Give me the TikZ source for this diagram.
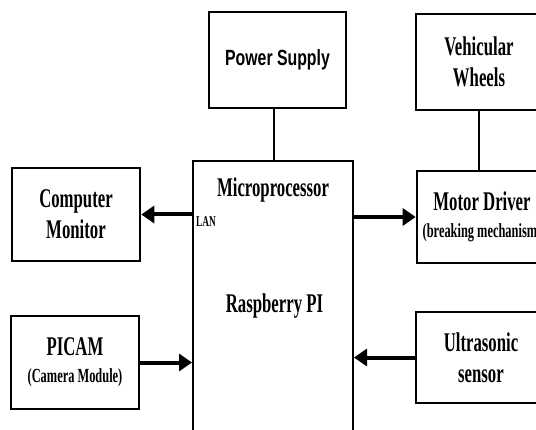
\documentclass[tikz,border=0pt]{standalone}
\usepackage{fontspec}
\setmainfont{Liberation Serif}[FakeStretch=0.62]
\newfontfamily\psfont{Liberation Sans}[FakeStretch=0.72]
\usetikzlibrary{arrows.meta}

\begin{document}
\begin{tikzpicture}[x=1pt, y=1pt,
	box/.style={draw, line width=2.6pt, minimum width=#1, inner sep=0pt, align=center,
		font=\fontsize{27}{31}\selectfont\bfseries},
	box/.default=128pt,
	arr/.style={line width=4pt, -{Triangle[length=13pt, width=17pt]}},
	link/.style={line width=2pt}]
	\useasboundingbox (0,0) rectangle (536,429);
	\clip (0,0) rectangle (536,429);

	\node[box=160pt, line width=2pt, minimum height=280pt] (rpi) at (273,128) {};
	\node[anchor=base, font=\fontsize{27}{31}\selectfont\bfseries] (mp) at (273,232) {Microprocessor};
	\node[anchor=base, font=\fontsize{27}{31}\selectfont\bfseries] (pi) at (274.5,117) {Raspberry PI};
	\node[anchor=base west, inner sep=0pt, font=\fontsize{15}{17}\selectfont\bfseries] (lan) at (196,202) {LAN};

	\node[box=137pt, minimum height=96pt, font=\fontsize{22}{26}\psfont\bfseries] (pwr) at (277.5,369) {Power Supply};
	\node[box=126pt, minimum height=96pt] (whl) at (479,367) {Vehicular\\Wheels};

	\node[box, minimum height=93pt] (mon) at (76,214.5) {Computer\\Monitor};
	\node[box, minimum height=93pt] (cam) at (75,66.5)
		{PICAM\\[-4pt]{\fontsize{20}{24}\selectfont(Camera Module)}};

	\node[box=130pt, minimum height=92pt] (mot) at (482,212)
		{Motor Driver\\[-4pt]{\fontsize{20}{24}\selectfont(breaking mechanism)}};
	\node[box=130pt, minimum height=91pt] (ult) at (481,71.5) {Ultrasonic\\sensor};

	\draw[link] (pwr.south -| 274,0) -- (274,0 |- rpi.north);
	\draw[link] (whl.south) -- (whl.south |- mot.north);

	\draw[arr] (rpi.west |- mon.east) -- (mon.east);
	\draw[arr] (rpi.east |- mot.west) -- (mot.west);
	\draw[arr] (cam.east) -- (cam.east -| rpi.west);
	\draw[arr] (ult.west) -- (ult.west -| rpi.east);
\end{tikzpicture}
\end{document}
